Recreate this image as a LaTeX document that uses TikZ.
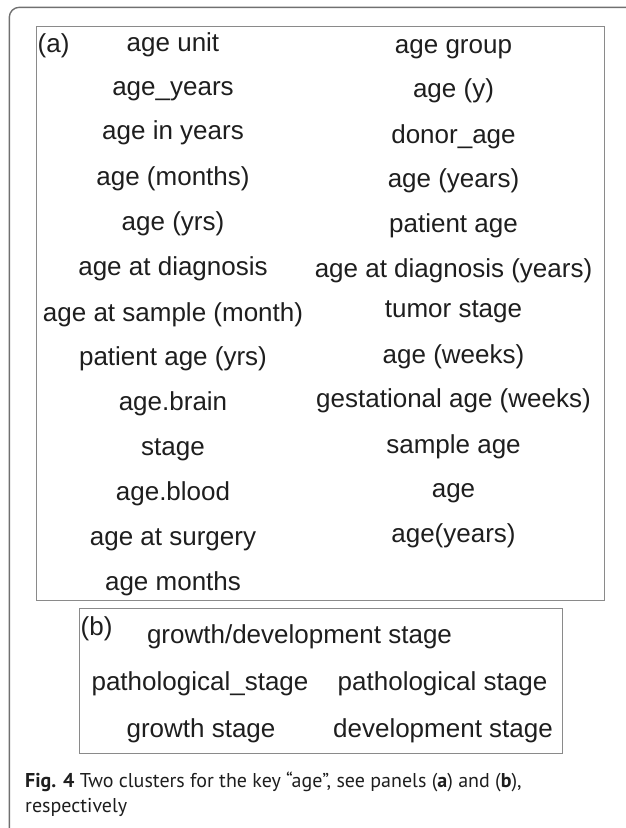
\documentclass[tikz,border=0pt]{standalone}
\usepackage{fontspec}
\setmainfont{Liberation Sans}
\newfontfamily\capfont{PT Sans}
\definecolor{txt}{HTML}{1E1E1E}
\definecolor{boxline}{HTML}{8A8A8A}
\definecolor{frameline}{HTML}{707070}
\begin{document}
\begin{tikzpicture}[x=1pt,y=-1pt,
  lbl/.style={font=\fontsize{26}{26}\selectfont, text=txt, inner sep=0pt, anchor=base},
  tagtext/.style={lbl, anchor=base west},
  captext/.style={font=\capfont\fontsize{20}{24}\selectfont, text=txt, inner sep=0pt, anchor=base west},
  panelbox/.style={draw=boxline, line width=1pt},
  outerframe/.style={draw=frameline, line width=1.4pt, rounded corners=10pt}]
\useasboundingbox (0,0) rectangle (626,828);
\begin{scope}
\clip (0,0) rectangle (626,828);
\draw[outerframe] (9.3,7.3) rectangle (680,900);
\end{scope}
% panel (a)
\draw[panelbox] (36.5,26.5) rectangle (604.5,600);
\node[tagtext] (ta) at (37.5,52.5) {(a)};
\node[lbl] (l1) at (173,51) {age unit};
\node[lbl] (l2) at (173,95) {age\_years};
\node[lbl] (l3) at (173,139) {age in years};
\node[lbl] (l4) at (173,185) {age (months)};
\node[lbl] (l5) at (173,230) {age (yrs)};
\node[lbl] (l6) at (173,275) {age at diagnosis};
\node[lbl] (l7) at (173,321) {age at sample (month)};
\node[lbl] (l8) at (173,365) {patient age (yrs)};
\node[lbl] (l9) at (173,410) {age.brain};
\node[lbl] (l10) at (173,455) {stage};
\node[lbl] (l11) at (173,500) {age.blood};
\node[lbl] (l12) at (173,545) {age at surgery};
\node[lbl] (l13) at (173,590) {age months};
\node[lbl] (r1) at (453.5,53) {age group};
\node[lbl] (r2) at (453.5,97) {age (y)};
\node[lbl] (r3) at (453.5,143) {donor\_age};
\node[lbl] (r4) at (453.5,187) {age (years)};
\node[lbl] (r5) at (453.5,232) {patient age};
\node[lbl] (r6) at (453.5,277) {age at diagnosis (years)};
\node[lbl] (r7) at (453.5,317) {tumor stage};
\node[lbl] (r8) at (453.5,363) {age (weeks)};
\node[lbl] (r9) at (453.5,407) {gestational age (weeks)};
\node[lbl] (r10) at (453.5,453) {sample age};
\node[lbl] (r11) at (453.5,497) {age};
\node[lbl] (r12) at (453.5,542) {age(years)};
% panel (b)
\draw[panelbox] (79,608.5) rectangle (562.5,753);
\node[tagtext] (tb) at (80.5,635.5) {(b)};
\node[lbl] (b1) at (299.5,643) {growth/development stage};
\node[lbl] (b2) at (200,690) {pathological\_stage};
\node[lbl] (b3) at (442.5,690) {pathological stage};
\node[lbl] (b4) at (201,737) {growth stage};
\node[lbl] (b5) at (443,737) {development stage};
% caption
\node[captext] (c1) at (25,787) {\textbf{Fig. 4} Two clusters for the key “age”, see panels (\textbf{a}) and (\textbf{b}),};
\node[captext] (c2) at (25,812) {respectively};
\end{tikzpicture}
\end{document}
